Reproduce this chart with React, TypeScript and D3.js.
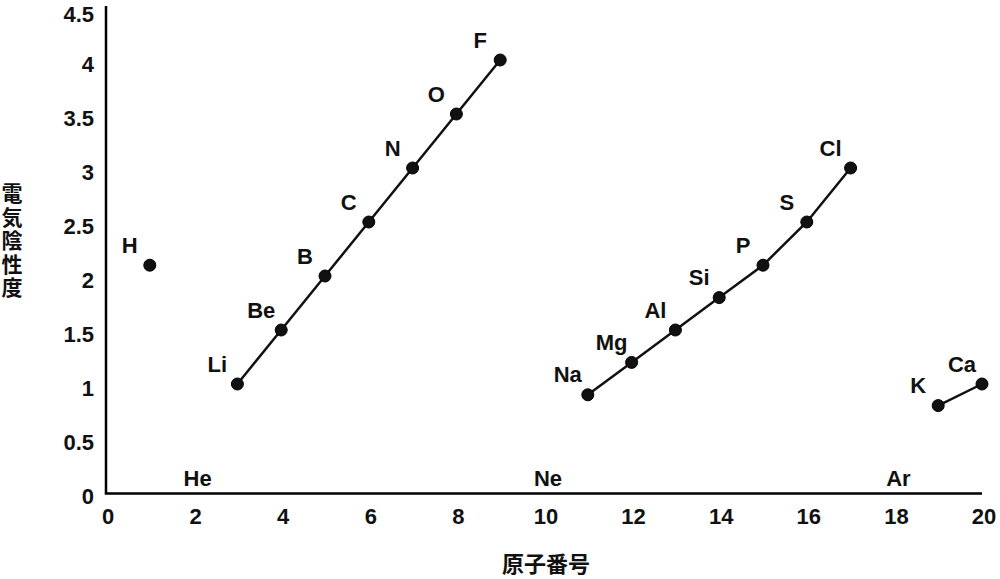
import React from 'react';
import * as d3 from 'd3';

// electronegativity by atomic number (Pauling, rounded as drawn)
const symbols = ['H', 'Li', 'Be', 'B', 'C', 'N', 'O', 'F', 'Na', 'Mg', 'Al', 'Si', 'P', 'S', 'Cl', 'K', 'Ca'];
const atomicNumbers = [1, 3, 4, 5, 6, 7, 8, 9, 11, 12, 13, 14, 15, 16, 17, 19, 20];
const electroneg = [2.1, 1.0, 1.5, 2.0, 2.5, 3.0, 3.5, 4.0, 0.9, 1.2, 1.5, 1.8, 2.1, 2.5, 3.0, 0.8, 1.0];
// which period segment each point belongs to (lines join same group)
const groups = [1, 2, 2, 2, 2, 2, 2, 2, 3, 3, 3, 3, 3, 3, 3, 4, 4];

const nobleSymbols = ['He', 'Ne', 'Ar'];
const nobleNumbers = [2, 10, 18];

const xTicks = [0, 2, 4, 6, 8, 10, 12, 14, 16, 18, 20];
const yTicks = [0, 0.5, 1, 1.5, 2, 2.5, 3, 3.5, 4, 4.5];

const W = 1000;
const H = 579;
const font = '"Liberation Sans", Arial, sans-serif';
const cjk = '"Noto Sans CJK JP", sans-serif';

export default function App() {
  const x = d3.scaleLinear().domain([0, 20]).range([106, 982]);
  const y = d3.scaleLinear().domain([0, 4.5]).range([492, 6]);

  const pts = symbols.map((s, i) => ({ s, n: atomicNumbers[i], v: electroneg[i], g: groups[i] }));
  const byGroup = d3.groups(pts, (d) => d.g);
  const line = d3
    .line<{ n: number; v: number }>()
    .x((d) => x(d.n))
    .y((d) => y(d.v));

  return (
    <svg
      width={W}
      height={H}
      viewBox={`0 0 ${W} ${H}`}
      style={{ position: 'absolute', left: 0, top: 0, background: '#fff' }}
    >
      {/* axes */}
      <line x1={x(0)} x2={x(0)} y1={y(4.5)} y2={y(0) + 1.5} stroke="#000" strokeWidth={2.5} />
      <line x1={x(0) - 1.2} x2={x(20)} y1={y(0) + 1.5} y2={y(0) + 1.5} stroke="#000" strokeWidth={2.5} />

      {yTicks.map((t) => (
        <text
          key={`y${t}`}
          x={94}
          y={Math.max(y(t) + 4, 14)}
          textAnchor="end"
          dominantBaseline="central"
          fontFamily={font}
          fontWeight="bold"
          fontSize={22}
          fill="#111"
        >
          {t}
        </text>
      ))}
      {xTicks.map((t) => (
        <text
          key={`x${t}`}
          x={x(t) + 2}
          y={516}
          textAnchor="middle"
          dominantBaseline="central"
          fontFamily={font}
          fontWeight="bold"
          fontSize={22}
          fill="#111"
        >
          {t}
        </text>
      ))}

      {/* axis titles */}
      <text
        x={546}
        y={562}
        textAnchor="middle"
        dominantBaseline="central"
        fontFamily={cjk}
        fontWeight="bold"
        fontSize={22}
        fill="#111"
      >
        原子番号
      </text>
      <text
        x={12}
        y={183}
        style={{ writingMode: 'vertical-rl' }}
        letterSpacing={2.5}
        fontFamily={cjk}
        fontWeight="bold"
        fontSize={21}
        fill="#111"
      >
        電気陰性度
      </text>

      {/* period lines */}
      {byGroup.map(([g, arr]) =>
        arr.length > 1 ? (
          <path key={`l${g}`} d={line(arr) || ''} fill="none" stroke="#111" strokeWidth={2.5} />
        ) : null
      )}

      {/* points */}
      {pts.map((d) => (
        <circle key={`c${d.s}`} cx={x(d.n)} cy={y(d.v)} r={6} fill="#111" stroke="#000" strokeWidth={1} />
      ))}

      {/* element labels */}
      {pts.map((d) => (
        <text
          key={`t${d.s}`}
          x={x(d.n) - 20}
          y={y(d.v) - 20}
          textAnchor="middle"
          dominantBaseline="central"
          fontFamily={font}
          fontWeight="bold"
          fontSize={22}
          fill="#111"
        >
          {d.s}
        </text>
      ))}
      {nobleSymbols.map((s, i) => (
        <text
          key={`n${s}`}
          x={x(nobleNumbers[i]) + 4}
          y={y(0) - 14}
          textAnchor="middle"
          dominantBaseline="central"
          fontFamily={font}
          fontWeight="bold"
          fontSize={22}
          fill="#111"
        >
          {s}
        </text>
      ))}
    </svg>
  );
}
